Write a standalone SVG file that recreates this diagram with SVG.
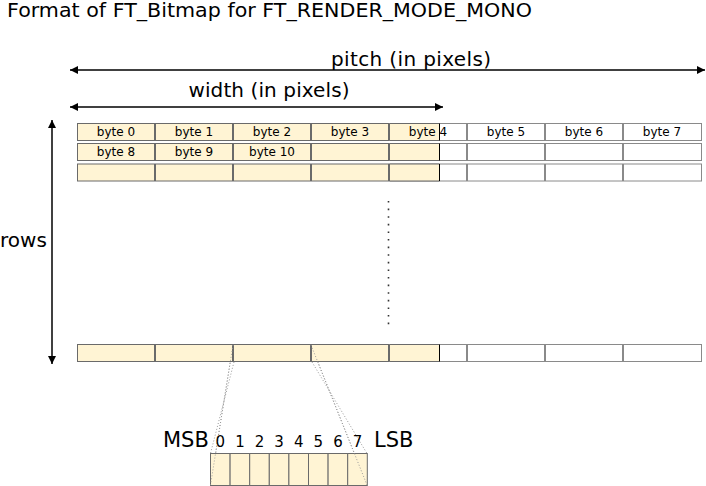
<svg xmlns="http://www.w3.org/2000/svg" width="706" height="486" viewBox="0 0 706 486">
<style>
text{font-family:"DejaVu Sans","Noto Sans",sans-serif;fill:#000}
.big{font-size:20px}
.byte{font-size:12px;text-anchor:middle}
.bit{font-size:15px;text-anchor:middle}
.y{fill:#fff4d4;stroke:#6a6a6a;stroke-width:1}
.w{fill:#fff;stroke:#8a8a8a;stroke-width:1}
.edge{stroke:#000;stroke-width:1}
.arrow{stroke:#000;stroke-width:1.5;fill:none}
.dot{stroke:#9a9a9a;stroke-width:1;stroke-dasharray:1 2;fill:none}
</style>
<defs>
<marker id="ah" viewBox="0 0 10 10" refX="10" refY="5" markerUnits="userSpaceOnUse" markerWidth="9" markerHeight="8" orient="auto-start-reverse">
<path d="M0,0 L10,5 L0,10 z" fill="#000"/>
</marker>
<g id="cells">
<rect class="y" x="77.5" y="0" width="77" height="17"/>
<rect class="y" x="155.5" y="0" width="77" height="17"/>
<rect class="y" x="233.5" y="0" width="77" height="17"/>
<rect class="y" x="311.5" y="0" width="77" height="17"/>
<rect class="w" x="389.5" y="0" width="77" height="17"/>
<rect x="390" y="0.5" width="49" height="16" fill="#fff4d4"/>
<path class="y" d="M439.5,0 H389.5 V17 H439.5" fill="none"/>
<line class="edge" x1="439.5" y1="0" x2="439.5" y2="17"/>
<rect class="w" x="467.5" y="0" width="77" height="17"/>
<rect class="w" x="545.5" y="0" width="77" height="17"/>
<rect class="w" x="623.5" y="0" width="78" height="17"/>
</g>
</defs>

<text id="title" x="7" y="17" font-size="19" textLength="525" lengthAdjust="spacingAndGlyphs">Format of FT_Bitmap for FT_RENDER_MODE_MONO</text>

<g id="connectors">
<line class="arrow" x1="70" y1="70" x2="705" y2="70" marker-start="url(#ah)" marker-end="url(#ah)"/>
<line class="arrow" x1="70" y1="107" x2="443" y2="107" marker-start="url(#ah)" marker-end="url(#ah)"/>
<line class="arrow" x1="52" y1="120" x2="52" y2="364" marker-start="url(#ah)" marker-end="url(#ah)"/>
<line class="dot" x1="233" y1="345" x2="210.5" y2="485"/>
<line class="dot" x1="234" y1="362" x2="210.5" y2="453.5"/>
<line class="dot" x1="311" y1="345" x2="367" y2="485"/>
<line class="dot" x1="312" y1="362" x2="367" y2="453.5"/>
</g>

<g id="pitch-label"><text class="big" x="411" y="66" text-anchor="middle" textLength="160">pitch (in pixels)</text></g>
<g id="width-label"><text class="big" x="269" y="97" text-anchor="middle" textLength="161">width (in pixels)</text></g>
<g id="rows-label"><text class="big" x="0" y="247">rows</text></g>

<g id="row-1">
<use href="#cells" y="123.5"/>
<text class="byte" x="116" y="135.5">byte 0</text>
<text class="byte" x="194" y="135.5">byte 1</text>
<text class="byte" x="272" y="135.5">byte 2</text>
<text class="byte" x="350" y="135.5">byte 3</text>
<text class="byte" x="428" y="135.5">byte 4</text>
<text class="byte" x="506" y="135.5">byte 5</text>
<text class="byte" x="584" y="135.5">byte 6</text>
<text class="byte" x="662" y="135.5">byte 7</text>
</g>
<g id="row-2">
<use href="#cells" y="143.5"/>
<text class="byte" x="116" y="156">byte 8</text>
<text class="byte" x="194" y="156">byte 9</text>
<text class="byte" x="272" y="156">byte 10</text>
</g>
<g id="row-3">
<use href="#cells" y="164"/>
</g>
<g id="ellipsis">
<line x1="388.5" y1="201" x2="388.5" y2="325" stroke="#333" stroke-width="1.6" stroke-dasharray="1.6 6"/>
</g>
<g id="row-last">
<use href="#cells" y="344.5"/>
</g>

<g id="bits">
<rect class="y" x="210.5" y="453.5" width="19.6" height="32"/>
<rect class="y" x="230.1" y="453.5" width="19.6" height="32"/>
<rect class="y" x="249.7" y="453.5" width="19.6" height="32"/>
<rect class="y" x="269.3" y="453.5" width="19.6" height="32"/>
<rect class="y" x="288.9" y="453.5" width="19.6" height="32"/>
<rect class="y" x="308.5" y="453.5" width="19.6" height="32"/>
<rect class="y" x="328.1" y="453.5" width="19.6" height="32"/>
<rect class="y" x="347.7" y="453.5" width="19.6" height="32"/>
<line class="dot" x1="233" y1="345" x2="210.5" y2="485" stroke-opacity="0.9"/>
<line class="dot" x1="311" y1="345" x2="367" y2="485"/>
<text class="big" x="163" y="447" font-size="21" style="font-size:21px">MSB</text>
<text class="big" x="374" y="447" style="font-size:21px">LSB</text>
<text class="bit" x="220.3" y="447">0</text>
<text class="bit" x="239.9" y="447">1</text>
<text class="bit" x="259.5" y="447">2</text>
<text class="bit" x="279.1" y="447">3</text>
<text class="bit" x="298.7" y="447">4</text>
<text class="bit" x="318.3" y="447">5</text>
<text class="bit" x="337.9" y="447">6</text>
<text class="bit" x="357.5" y="447">7</text>
</g>
</svg>
